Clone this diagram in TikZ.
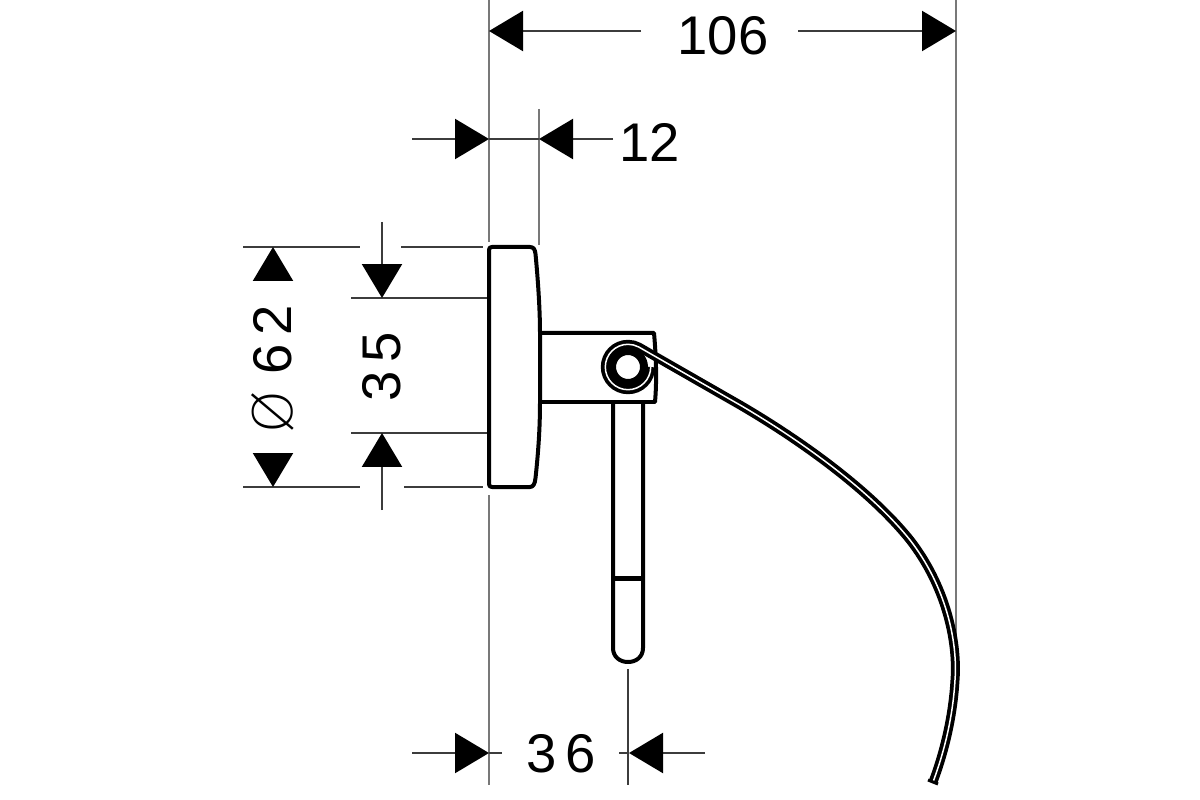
\documentclass[tikz,border=0pt]{standalone}
\usepackage{fontspec}
\setmainfont{Liberation Sans}
\newfontfamily\symfont{DejaVu Sans ExtraLight}
\usetikzlibrary{arrows.meta}
\definecolor{extgray}{RGB}{120,120,120}
\definecolor{dimgray}{RGB}{60,60,60}

\begin{document}
\begin{tikzpicture}[x=0.02cm,y=-0.02cm,
  extline/.style={extgray,line width=0.45mm},
  dimline/.style={dimgray,line width=0.45mm},
  dimarrow/.style={dimline,-{Triangle[length=6.8mm,width=8mm,black]}},
  body/.style={black,line width=0.8mm,line join=round},
  wire/.style={black,line width=0.75mm,double=white,double distance=0.3mm},
  dimtext/.style={inner sep=0pt,font=\fontsize{31}{36}\selectfont},
]
\useasboundingbox (0,0) rectangle (1200,800);

% the end points of the dimension lines
\coordinate (ta) at (489,31);
\coordinate (tb) at (641,31);
\coordinate (tc) at (798,31);
\coordinate (td) at (956,31);
\coordinate (wa) at (412,139);
\coordinate (wb) at (489,139);
\coordinate (wc) at (539,139);
\coordinate (wd) at (613,139);
\coordinate (ba) at (412,753);
\coordinate (bb) at (489,753);
\coordinate (bc) at (502,753);
\coordinate (bd) at (619,753);
\coordinate (be) at (629,753);
\coordinate (bf) at (705,753);
\coordinate (da) at (273,281);
\coordinate (db) at (273,247);
\coordinate (dc) at (273,453);
\coordinate (dd) at (273,487);
\coordinate (ha) at (382,222);
\coordinate (hb) at (382,298);
\coordinate (hc) at (382,510);
\coordinate (hd) at (382,433);

% the extension lines
\draw[extline] (489,0) -- (489,242);
\draw[extline] (489,495) -- (489,785);
\draw[extline] (539,109) -- (539,245);
\draw[extline] (956,0) -- (956,640);
\draw[dimline] (628,669) -- (628,785);
\draw[dimline] (243,247) -- (360,247);
\draw[dimline] (401,247) -- (483,247);
\draw[dimline] (243,487) -- (360,487);
\draw[dimline] (404,487) -- (483,487);
\draw[dimline] (351,298) -- (487,298);
\draw[dimline] (351,433) -- (487,433);

% the dimensions
\node[dimtext] (dim106) at (723,36) {106};
\node[dimtext] (dim12) at (650,142) {12};
\node[dimtext] (dim36) at (561,754) {3\,6};
\node[dimtext,rotate=90] (dim35) at (382,367) {3\,5};
\node[dimtext,rotate=90] (dim62) at (273,340) {6\,2};
\node[dimtext,rotate=90,font=\symfont\fontsize{31}{36}\selectfont] (dimdia) at (273,412) {Ø};

\draw[dimarrow] (tb) -- (ta);
\draw[dimarrow] (tc) -- (td);
\draw[dimarrow] (wa) -- (wb);
\draw[dimline] (wb) -- (wc);
\draw[dimarrow] (wd) -- (wc);
\draw[dimarrow] (ba) -- (bb);
\draw[dimline] (bb) -- (bc);
\draw[dimarrow] (bf) -- (be);
\draw[dimline] (be) -- (bd);
\draw[dimarrow] (da) -- (db);
\draw[dimarrow] (dc) -- (dd);
\draw[dimarrow] (ha) -- (hb);
\draw[dimarrow] (hc) -- (hd);

% the wall plate
\draw[body] (492,247) -- (530,247) .. controls (534,247) and (535,250) .. (535.5,254)
  .. controls (538,280) and (540,310) .. (540,333) -- (540,402)
  .. controls (540,430) and (538,455) .. (535.5,478)
  .. controls (535,484) and (533,487) .. (530,487) -- (492,487)
  .. controls (490,487) and (489,486) .. (489,484) -- (489,250)
  .. controls (489,248) and (490,247) .. (492,247) -- cycle;
% the arm
\draw[body] (540,333) -- (654,333) .. controls (656,355) and (657,380) .. (655,402) -- (540,402);
% the rod
\draw[body] (613,402) -- (613,648) .. controls (613,657) and (620,662) .. (628,662)
  .. controls (636,662) and (643,657) .. (643,648) -- (643,402);
\draw[black,line width=1mm] (613,578) -- (643,578);

% the spring
\coordinate (wirestart) at (650.7,367);
\draw[wire] (wirestart) arc[start angle=0,end angle=299,radius=22.7]
  -- (740,405) .. controls (800,440) and (870,490) .. (910,540)
  .. controls (945,585) and (958,640) .. (955,680)
  .. controls (953,715) and (945,750) .. (933,782);
\draw[black,line width=0.6mm] (928,780) -- (938,784);
\node[circle,draw=black,fill=white,line width=1.6mm,minimum size=6.4mm,inner sep=0pt] (hub) at (628,367) {};
\end{tikzpicture}
\end{document}
